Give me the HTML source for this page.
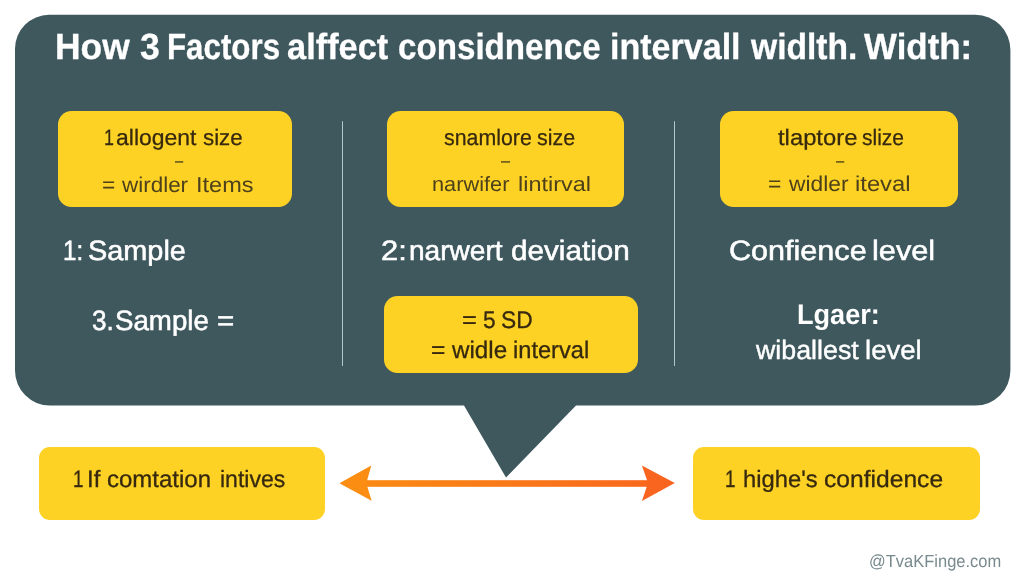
<!DOCTYPE html>
<html lang="en">
<head>
<meta charset="utf-8">
<title>How 3 Factors affect confidence interval width</title>
<style>
html,body{margin:0;padding:0}
body{width:1024px;height:585px;position:relative;overflow:hidden;background:#fff;font-family:"Liberation Sans",Arial,sans-serif}
svg.bg{position:absolute;left:0;top:0}
.box{position:absolute;background:#fdd224;border-radius:13.5px}
.rule{position:absolute;width:1.8px;background:#aecace;top:121px;height:244.5px;border-radius:1px}
.tx{will-change:transform;text-rendering:geometricPrecision;position:absolute;left:0;margin:0;padding:0;white-space:nowrap;line-height:1;font-weight:400;width:1024px;height:1em}
.tx span{position:absolute;top:0;display:block;transform-origin:0 0}
</style>
</head>
<body>
<svg class="bg" width="1024" height="585" viewBox="0 0 1024 585">
  <defs>
    <linearGradient id="ag" x1="339" y1="0" x2="675" y2="0" gradientUnits="userSpaceOnUse">
      <stop offset="0" stop-color="#fa8d12"/>
      <stop offset="1" stop-color="#f9651f"/>
    </linearGradient>
  </defs>
  <path fill="#3e585e" d="M49 14.8 H975.4 A35 35 0 0 1 1010.4 49.8 V370.6 A35 35 0 0 1 975.4 405.6 H576 L506 477.6 L464 405.6 H50 A35 35 0 0 1 15 370.6 V48.8 A34 34 0 0 1 49 14.8 Z"/>
  <rect x="360" y="480.2" width="292" height="6.6" fill="url(#ag)"/>
  <path fill="#fa8d12" d="M339.4 483.2 L371.3 465.6 L366.3 483.2 L371.6 500.7 Z"/>
  <path fill="#f9651f" d="M674.8 483.1 L641.9 465.4 L648 483.1 L641.9 501 Z"/>
</svg>
<div class="rule" style="left:341.5px"></div>
<div class="rule" style="left:673.7px"></div>
<div class="box" style="left:57.90px;top:110.90px;width:234.40px;height:95.80px"></div>
<div class="box" style="left:387.10px;top:110.90px;width:236.80px;height:95.80px"></div>
<div class="box" style="left:720.30px;top:110.90px;width:237.30px;height:95.80px"></div>
<div class="box" style="left:384.00px;top:296.20px;width:254.30px;height:77.00px"></div>
<div class="box" style="left:38.60px;top:446.70px;width:286.00px;height:73.10px;border-radius:11px"></div>
<div class="box" style="left:692.50px;top:446.80px;width:287.30px;height:73.00px;border-radius:11px"></div>
<h1 class="tx" style="top:29px;font-size:36.4px;color:#ffffff;font-weight:700;-webkit-text-stroke:0.3px #ffffff"><span style="left:55.42px;transform:scaleX(0.9729)">How</span> <span style="left:139.56px;transform:scaleX(0.9803)">3</span> <span style="left:166.82px;transform:scaleX(0.8600)">Factors</span> <span style="left:287.18px;transform:scaleX(0.9453)">alffect</span> <span style="left:397.86px;transform:scaleX(0.9112)">considnence</span> <span style="left:610.11px;transform:scaleX(0.9357)">intervall</span> <span style="left:750.92px;transform:scaleX(0.9235)">widlth.</span> <span style="left:863.82px;transform:scaleX(0.9594)">Width:</span></h1>
<p class="tx" style="top:127px;font-size:22.3px;color:#36290f;-webkit-text-stroke:0.25px #36290f"><span style="left:104.39px;transform:scaleX(0.8000)">1</span> <span style="left:116.35px;transform:scaleX(1.0302)">allogent</span> <span style="left:202.96px;transform:scaleX(0.9995)">size</span></p>
<p class="tx" style="top:151px;font-size:20px;color:#4d411b"><span style="left:174.50px;transform:scaleX(0.7402)">–</span></p>
<p class="tx" style="top:175px;font-size:21.5px;color:#4d411b"><span style="left:102.48px;transform:scaleX(1.0545)">=</span> <span style="left:122.19px;transform:scaleX(1.0439)">wirdler</span> <span style="left:195.51px;transform:scaleX(1.0936)">Items</span></p>
<p class="tx" style="top:127px;font-size:22.3px;color:#36290f;-webkit-text-stroke:0.25px #36290f"><span style="left:443.80px;transform:scaleX(0.9574)">snamlore</span> <span style="left:537.49px;transform:scaleX(0.9598)">size</span></p>
<p class="tx" style="top:151px;font-size:20px;color:#4d411b"><span style="left:500.68px;transform:scaleX(0.8142)">–</span></p>
<p class="tx" style="top:175px;font-size:20.6px;color:#4d411b"><span style="left:431.78px;transform:scaleX(1.0565)">narwifer</span> <span style="left:517.82px;transform:scaleX(1.1400)">lintirval</span></p>
<p class="tx" style="top:127px;font-size:22.3px;color:#36290f;-webkit-text-stroke:0.25px #36290f"><span style="left:777.75px;transform:scaleX(1.0674)">tlaptore</span> <span style="left:861.81px;transform:scaleX(0.9411)">slize</span></p>
<p class="tx" style="top:151px;font-size:20px;color:#4d411b"><span style="left:835.70px;transform:scaleX(0.7402)">–</span></p>
<p class="tx" style="top:174px;font-size:21.5px;color:#4d411b"><span style="left:768.47px;transform:scaleX(1.0641)">=</span> <span style="left:788.88px;transform:scaleX(1.0599)">widler</span> <span style="left:854.70px;transform:scaleX(1.1061)">iteval</span></p>
<h2 class="tx" style="top:237px;font-size:28.0px;color:#ffffff;-webkit-text-stroke:0.55px #ffffff"><span style="left:62.60px;transform:scaleX(0.8600)">1:</span> <span style="left:87.51px;transform:scaleX(1.0308)">Sample</span></h2>
<h2 class="tx" style="top:237px;font-size:28.0px;color:#ffffff;-webkit-text-stroke:0.55px #ffffff"><span style="left:380.53px;transform:scaleX(1.1046)">2:</span> <span style="left:408.68px;transform:scaleX(1.0026)">narwert</span> <span style="left:510.79px;transform:scaleX(1.0604)">deviation</span></h2>
<h2 class="tx" style="top:237px;font-size:28.0px;color:#ffffff;-webkit-text-stroke:0.55px #ffffff"><span style="left:728.60px;transform:scaleX(1.0917)">Confience</span> <span style="left:872.42px;transform:scaleX(1.0972)">level</span></h2>
<h2 class="tx" style="top:307px;font-size:28px;color:#ffffff;-webkit-text-stroke:0.55px #ffffff"><span style="left:91.55px;transform:scaleX(0.9349)">3.</span> <span style="left:115.48px;transform:scaleX(0.9883)">Sample</span> <span style="left:216.54px;transform:scaleX(1.0536)">=</span></h2>
<p class="tx" style="top:309px;font-size:24px;color:#36290f;-webkit-text-stroke:0.3px #36290f"><span style="left:462.34px;transform:scaleX(1.0589)">=</span> <span style="left:482.60px;transform:scaleX(0.9455)">5</span> <span style="left:500.73px;transform:scaleX(0.9478)">SD</span></p>
<p class="tx" style="top:339px;font-size:24px;color:#36290f;-webkit-text-stroke:0.3px #36290f"><span style="left:431.48px;transform:scaleX(1.0245)">=</span> <span style="left:452.18px;transform:scaleX(1.0082)">widle</span> <span style="left:513.31px;transform:scaleX(0.9852)">interval</span></p>
<h3 class="tx" style="top:301px;font-size:28.5px;color:#ffffff;font-weight:700"><span style="left:796.99px;transform:scaleX(0.9509)">Lgaer:</span></h3>
<p class="tx" style="top:337px;font-size:26.5px;color:#ffffff;-webkit-text-stroke:0.4px #ffffff"><span style="left:755.70px;transform:scaleX(1.0107)">wiballest</span> <span style="left:864.64px;transform:scaleX(1.0412)">level</span></p>
<p class="tx" style="top:469px;font-size:23.6px;color:#36290f;-webkit-text-stroke:0.3px #36290f"><span style="left:73.10px;transform:scaleX(0.8000)">1</span> <span style="left:87.16px;transform:scaleX(1.0185)">If</span> <span style="left:107.43px;transform:scaleX(1.0173)">comtation</span> <span style="left:220.15px;transform:scaleX(0.9768)">intives</span></p>
<p class="tx" style="top:469px;font-size:23.6px;color:#36290f;-webkit-text-stroke:0.3px #36290f"><span style="left:725.10px;transform:scaleX(0.8000)">1</span> <span style="left:743.35px;transform:scaleX(1.0070)">highe's</span> <span style="left:824.00px;transform:scaleX(1.0434)">confidence</span></p>
<p class="tx" style="top:553px;font-size:17.5px;color:#788a8e"><span style="left:869.08px;transform:scaleX(0.9422)">@TvaKFinge.com</span></p>
</body>
</html>
